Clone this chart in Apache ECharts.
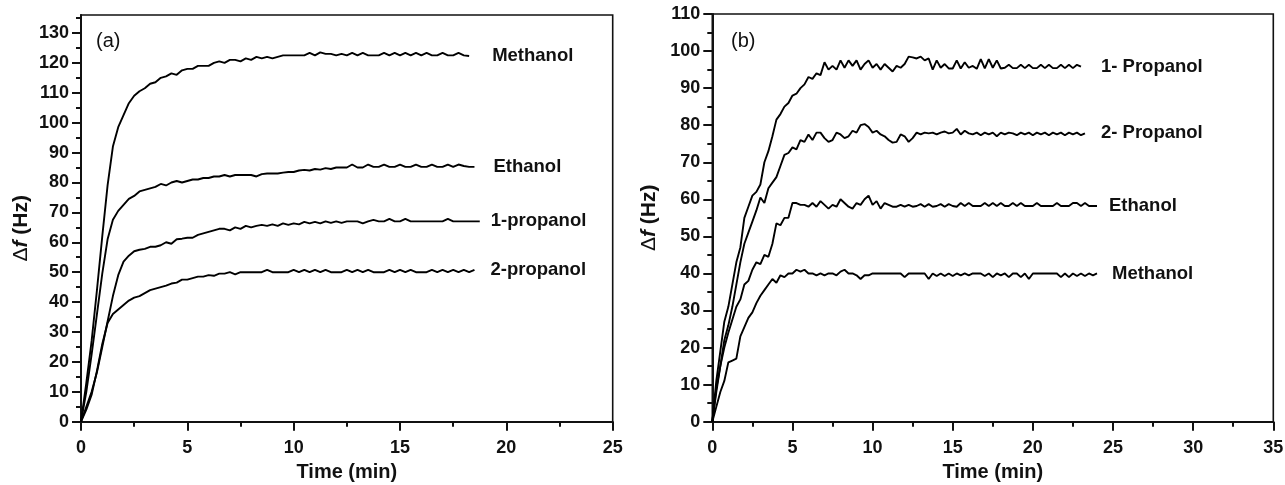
<!DOCTYPE html>
<html>
<head>
<meta charset="utf-8">
<script src="https://cdn.jsdelivr.net/npm/echarts@6/dist/echarts.min.js"></script>
<style>
html,body{margin:0;padding:0;background:#fff;}
#c{width:1285px;height:485px;}
</style>
</head>
<body>
<div id="c"></div>
<script>
// sampling interval of the recorded traces (min)
const stepA = 0.25;
const stepB = 0.25;

// Panel (a) – Δf (Hz) vs time
const methanolA = [0,13,27,44,62,79,92,98.5,102.5,106.5,109,110.5,111.5,113,113.5,115,115.5,116.5,116,117.5,118,118,119,119,119,120,120.5,120,121,121,120.5,121.5,121,122,121.5,122,121.5,122,122.5,122.5,122.5,122.5,122.5,123.3,122.5,123.5,123,123,122.5,123,122.5,123.3,122.5,123.3,122.5,122.5,122.5,123.3,122.5,123.3,122.5,123.3,122.5,123.3,122.5,123.3,122.5,122.5,123.3,122.5,122.5,123.3,122.5,122.3];
const ethanolA = [0,10,22.5,36,49.5,61,67.5,70.5,72.5,74.5,75.5,77,77.5,78,78.5,79.5,79,80,80.5,80,80.5,81,81,81.5,81.5,82,82,82.5,82,82.5,82.5,82.5,82.5,82,82.8,83,83,83,83.3,83.5,83.5,84,84.2,84,84.5,84.3,84.8,84.5,85,85,85,86,85,85,86,85.2,85.2,86,85.2,85.2,86,85.2,85.2,86,85.2,85.2,86,85.2,85.2,86,85.2,86,85.5,85.2,85.2];
const propanol1A = [0,5,10,16.5,25,33.5,42,49,53.5,55.5,57,57.5,57.8,58.5,58.5,59,60,59.5,61,61.2,61.5,61.5,62.5,63,63.5,64,64.5,64.5,64,65,64.5,65.5,65,65.5,65.8,65.5,66,65.5,66.3,65.8,66.3,66,66.8,66.3,66.8,66.3,67,66.5,67,66.5,67,67,67,66.3,67,67.5,67,67,67.8,67,67,67.8,67,67,67,67,67,67,67,67.8,67,67,67,67,67,67];
const propanol2A = [0,4,9,17,26,33,36,37.5,39,40.5,41.5,42,43,44,44.5,45,45.5,46.2,46.5,47.5,47.5,48,48.5,48.5,49,48.8,49.5,49.5,50,49.3,50,50,50,50,50,50.8,50,50,50,50,50.8,50,50.8,50,50.8,50,50.8,50,50,50,50.8,50,50.8,50,50.8,50,50,50,50.8,50,50.8,50,50.8,50,50,50,50.8,50,50.8,50,50.8,50,50.8,50,50.8];

// Panel (b) – Δf (Hz) vs time
const propanol1B = [0,11,19,27,31,37,43,47,55,58,61,62,64,70,73,77,81.5,83,85,86,88,88.5,90,91,93,92.5,94,93.5,97,95,96,95,97.5,95.5,97.5,96,97.5,95,96.5,97.5,95.5,96.5,95,96.5,95.5,94.5,96,95.5,96.5,98.5,98.3,98,98.5,97.5,98,95,97.5,95.5,96.5,95.3,95.3,97.5,95.3,97,95.5,96,95.2,97.8,95.3,97.8,95.5,97.5,95.3,95.5,96.3,95.4,95.4,96.3,95.4,96.3,95.4,95.4,96.3,95.4,96.3,95.4,95.4,96.3,95.4,96.3,95.4,96.3,95.8];
const propanol2B = [0,8,15,22,26,31,37,43,48,51,54,57,60.5,59,63,64.5,66,69,72,72.5,74,73.5,76,75.5,77.5,76,78,78,76.5,75.5,76,78,77.5,76.5,77,78.5,78,80,80.3,79.5,78,78.5,77.5,77,76,75.3,75.5,77.5,77,75.5,76.5,78,77.5,78,77.8,78,77.5,78,78.3,77.8,78,79,77.5,78.5,77.8,77.5,78,77.3,78,77.5,78,77,78,77.5,78,77.8,77.3,78,77.5,78,77.3,78,77.5,78,77.3,78,77.5,78,77.3,78,77.5,78,77.3,77.8];
const ethanolB = [0,9,15,20,24,27.5,31,33,37,38,41,43,42.5,45,44.5,48,53.5,53,55,55,59,59,58.5,58.5,58,59,58,59.5,58.5,57.5,58.5,58,60,59,58,57.5,59,58.5,60,61,58.5,59.5,57.5,59,58.5,58,58,58.5,58,58.5,58,58.2,58.7,58,58.7,58,58.2,58.7,58,58.7,58.2,58,59,58.2,59,58.2,58.2,58.2,59,58.2,59,58.2,59,58.2,58.2,59,58.2,59,58.2,58.2,58.2,59,58.2,58.2,58.2,58.2,59,58.2,58.2,58.2,59,59,58.2,59,58.2,58.2,58.2];
const methanolB = [0,4,8,11,16,16.5,17,23,25.5,28,29.5,32,34,35.5,37,38.5,37.5,39.5,39,40,40,41,40.5,41,40,40,39.5,40,39.5,40,40,39.5,40.5,41,40,40,39.5,38.5,39.5,39.5,40,40,40,40,40,40,40,40,39,40,40,40,40,40,38.5,40,39.3,40,39.3,40,39.3,40,39.5,40,39.5,40,40,40,39.3,40,39,40,39.5,40,39,40,40,39,40,38.5,40,40,40,40,40,40,40,39,40,39,40,39.3,40,39.3,40,39.5,40];

const namesA = ['Methanol', 'Ethanol', '1-propanol', '2-propanol'];
const namesB = ['1- Propanol', '2- Propanol', 'Ethanol', 'Methanol'];

// axis ticks
const xMajorA = [0,5,10,15,20,25];
const xMinorA = [2.5,7.5,12.5,17.5,22.5];
const yMajorA = [0,10,20,30,40,50,60,70,80,90,100,110,120,130];
const yMinorA = [5,15,25,35,45,55,65,75,85,95,105,115,125,135];
const xMajorB = [0,5,10,15,20,25,30,35];
const xMinorB = [2.5,7.5,12.5,17.5,22.5,27.5,32.5];
const yMajorB = [0,10,20,30,40,50,60,70,80,90,100,110];
const yMinorB = [5,15,25,35,45,55,65,75,85,95,105];

const FONT = "'Liberation Sans', Arial, sans-serif";
const INK = '#111';

function pairs(vals, step) { return vals.map((v, i) => [i * step, v]); }

function majorAxis(gridIndex, min, max, ticks, isX, nameOpts) {
  const a = {
    type: 'value', gridIndex, min, max,
    axisLine: { show: true, onZero: false, lineStyle: { color: INK, width: 2 } },
    axisTick: { show: true, inside: false, length: 9, customValues: ticks, lineStyle: { color: INK, width: 2 } },
    axisLabel: { show: true, customValues: ticks, margin: isX ? 17 : 12, color: INK, fontFamily: FONT, fontWeight: 'bold', fontSize: 18 },
    splitLine: { show: false }
  };
  Object.assign(a, nameOpts);
  return a;
}
function minorAxis(gridIndex, min, max, ticks, isX) {
  return {
    type: 'value', gridIndex, min, max, position: isX ? 'bottom' : 'left',
    axisLine: { show: false },
    axisTick: { show: true, inside: false, length: 5, customValues: ticks, lineStyle: { color: INK, width: 2 } },
    axisLabel: { show: false },
    splitLine: { show: false }
  };
}

const yName = (gap, pad) => ({
  name: '{d|Δ}{f|f}{t| (Hz)}',
  nameLocation: 'middle', nameGap: gap, nameRotate: 90,
  nameTextStyle: {
    padding: pad,
    rich: {
      d: { fontFamily: FONT, fontSize: 21, color: INK },
      f: { fontFamily: FONT, fontSize: 21, fontWeight: 'bold', fontStyle: 'italic', color: INK },
      t: { fontFamily: FONT, fontSize: 21, fontWeight: 'bold', color: INK }
    }
  }
});
const xName = (gap) => ({
  name: 'Time (min)', nameLocation: 'middle', nameGap: gap,
  nameTextStyle: { fontFamily: FONT, fontSize: 20, fontWeight: 'bold', color: INK }
});

function lineSeries(name, vals, step, xi, yi, dist) {
  return {
    type: 'line', name, data: pairs(vals, step), xAxisIndex: xi, yAxisIndex: yi,
    showSymbol: false, symbol: 'none', smooth: false,
    lineStyle: { color: '#000', width: 1.9 },
    endLabel: { show: true, formatter: name, distance: dist, color: INK, fontFamily: FONT, fontWeight: 'bold', fontSize: 18.5 },
    emphasis: { disabled: true },
    z: 3
  };
}

const chart = echarts.init(document.getElementById('c'), null, { renderer: 'canvas' });
chart.setOption({
  animation: false,
  backgroundColor: '#fff',
  grid: [
    { left: 81, top: 15, width: 531.7, height: 406.7, outerBoundsMode: 'none', containLabel: false, show: true, borderColor: INK, borderWidth: 1.6, backgroundColor: 'transparent' },
    { left: 712.3, top: 14, width: 561, height: 407.7, outerBoundsMode: 'none', containLabel: false, show: true, borderColor: INK, borderWidth: 1.6, backgroundColor: 'transparent' }
  ],
  xAxis: [
    majorAxis(0, 0, 25, xMajorA, true, xName(41)),
    minorAxis(0, 0, 25, xMinorA, true),
    majorAxis(1, 0, 35, xMajorB, true, xName(41)),
    minorAxis(1, 0, 35, xMinorB, true)
  ],
  yAxis: [
    majorAxis(0, 0, 136, yMajorA, false, yName(49, [0, 20, 0, 0])),
    minorAxis(0, 0, 136, yMinorA, false),
    majorAxis(1, 0, 110, yMajorB, false, yName(53, [0, 0, 0, 0])),
    minorAxis(1, 0, 110, yMinorB, false)
  ],
  graphic: [
    { type: 'text', left: 96, top: 31, style: { text: '(a)', fontFamily: FONT, fontSize: 20, fill: INK } },
    { type: 'text', left: 731, top: 31, style: { text: '(b)', fontFamily: FONT, fontSize: 20, fill: INK } }
  ],
  series: [
    lineSeries(namesA[0], methanolA, stepA, 0, 0, 23),
    lineSeries(namesA[1], ethanolA, stepA, 0, 0, 19),
    lineSeries(namesA[2], propanol1A, stepA, 0, 0, 11),
    lineSeries(namesA[3], propanol2A, stepA, 0, 0, 16),
    lineSeries(namesB[0], propanol1B, stepB, 2, 2, 20),
    lineSeries(namesB[1], propanol2B, stepB, 2, 2, 16),
    lineSeries(namesB[2], ethanolB, stepB, 2, 2, 12),
    lineSeries(namesB[3], methanolB, stepB, 2, 2, 15)
  ]
});
</script>
</body>
</html>
